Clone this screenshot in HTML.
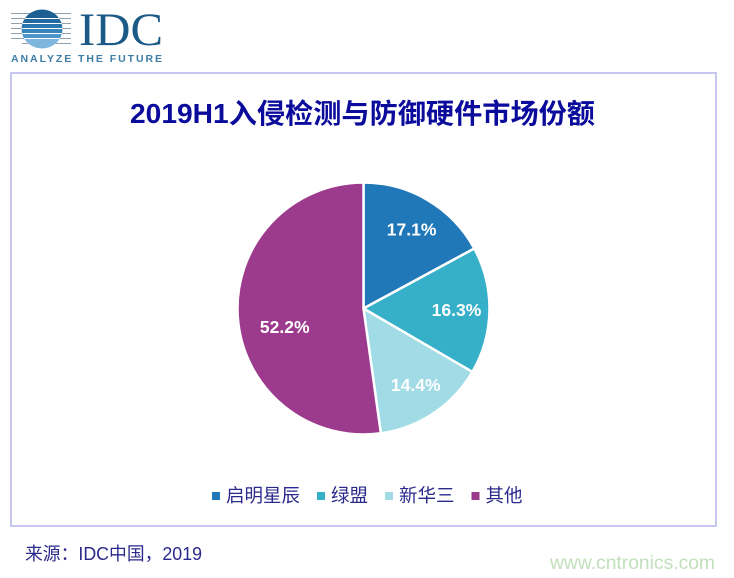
<!DOCTYPE html>
<html lang="zh">
<head>
<meta charset="utf-8">
<title>2019H1入侵检测与防御硬件市场份额</title>
<style>
html,body{margin:0;padding:0;background:#fff;}
body{width:734px;height:578px;overflow:hidden;position:relative;}
svg{display:block;position:absolute;left:0;top:0;}
text{font-family:"Liberation Sans","Noto Sans CJK SC",sans-serif;}
</style>
</head>
<body>
<svg id="chart" width="734" height="578" viewBox="0 0 734 578">
  <defs>
    <clipPath id="globe-clip"><ellipse cx="42" cy="29" rx="20.5" ry="19.5"/></clipPath>
  </defs>
  <g>
    <g stroke="#8f9fac" stroke-width="1">
      <line x1="11" y1="13.5" x2="71" y2="13.5"/>
      <line x1="11" y1="18.5" x2="71" y2="18.5"/>
      <line x1="11" y1="23.5" x2="71" y2="23.5"/>
      <line x1="11" y1="28.5" x2="71" y2="28.5"/>
      <line x1="11" y1="33.5" x2="71" y2="33.5"/>
      <line x1="11" y1="38.5" x2="71" y2="38.5"/>
      <line x1="22" y1="43.5" x2="71" y2="43.5"/>
    </g>
    <g clip-path="url(#globe-clip)">
      <rect x="20" y="9" width="44" height="41" fill="#fff"/>
      <rect x="20" y="9" width="44" height="9" fill="#1c5f92"/>
      <rect x="20" y="19" width="44" height="4" fill="#22699f"/>
      <rect x="20" y="24" width="44" height="4" fill="#2a77ad"/>
      <rect x="20" y="29" width="44" height="4" fill="#3585bb"/>
      <rect x="20" y="34" width="44" height="4" fill="#4b95c8"/>
      <rect x="20" y="39" width="44" height="10" fill="#7fb6dd"/>
    </g>
    <text x="79" y="45" textLength="84" lengthAdjust="spacingAndGlyphs" style="font-family:'Liberation Serif',serif;font-size:47px" fill="#1b5a86">IDC</text>
    <text x="11" y="62" textLength="151" style="font-size:10.5px;font-weight:700" fill="#3d7da6">ANALYZE THE FUTURE</text>
  </g>
  <rect x="11" y="73" width="705" height="453" fill="#fff" stroke="#c6c6ee" stroke-width="2"/>
  <text x="362.5" y="123" text-anchor="middle" textLength="465" lengthAdjust="spacingAndGlyphs" style="font-size:27.5px;font-weight:700" fill="#0b0b9c">2019H1入侵检测与防御硬件市场份额</text>
  <g id="slices"></g>
  <g id="labels"></g>
  <g id="legend"></g>
  <text x="25" y="560" textLength="177" lengthAdjust="spacingAndGlyphs" style="font-size:18px" fill="#2a2a8c">来源：IDC中国，2019</text>
  <text x="550" y="569" textLength="165" lengthAdjust="spacingAndGlyphs" style="font-size:19px" fill="#c2e0bb">www.cntronics.com</text>
</svg>
<script>
const categories = ['启明星辰', '绿盟', '新华三', '其他'];
const shares = [17.1, 16.3, 14.4, 52.2];
const valueLabels = ['17.1%', '16.3%', '14.4%', '52.2%'];

const sliceColors = ['#2178b8', '#36afc9', '#a0dbe6', '#9c3b8e'];
const NS = 'http://www.w3.org/2000/svg';
const cx = 363.5, cy = 308.5, radius = 126, labelRadius = 92;
const total = shares.reduce((a, b) => a + b, 0);

function angleFor(v) { return v / total * Math.PI * 2; }
function pointAt(a, r) { return [cx + r * Math.sin(a), cy - r * Math.cos(a)]; }

const slicesG = document.getElementById('slices');
const labelsG = document.getElementById('labels');
const legendG = document.getElementById('legend');

let running = 0;
shares.forEach(function (v, i) {
  const a0 = angleFor(running);
  const a1 = angleFor(running + v);
  const p0 = pointAt(a0, radius);
  const p1 = pointAt(a1, radius);
  const large = a1 - a0 > Math.PI ? 1 : 0;
  const path = document.createElementNS(NS, 'path');
  path.setAttribute('d', 'M' + cx + ' ' + cy + ' L' + p0[0] + ' ' + p0[1] + ' A' + radius + ' ' + radius + ' 0 ' + large + ' 1 ' + p1[0] + ' ' + p1[1] + ' Z');
  path.setAttribute('fill', sliceColors[i]);
  path.setAttribute('stroke', '#fff');
  path.setAttribute('stroke-width', '2.5');
  path.setAttribute('stroke-linejoin', 'round');
  
  
  slicesG.appendChild(path);

  const mid = pointAt((a0 + a1) / 2, labelRadius);
  const isMajor = v / total > 0.5;
  const t = document.createElementNS(NS, 'text');
  t.setAttribute('x', mid[0] + (isMajor ? 13 : 1));
  t.setAttribute('y', mid[1] + 6 + (isMajor ? 12 : 0));
  t.setAttribute('text-anchor', 'middle');
  t.setAttribute('fill', '#fff');
  t.setAttribute('style', 'font-size:17.5px;font-weight:700');
  
  
  t.textContent = valueLabels[i];
  labelsG.appendChild(t);
  running += v;
});

const legendY = 496;
let legendX = 212;
categories.forEach(function (name, i) {
  const sw = document.createElementNS(NS, 'rect');
  sw.setAttribute('x', legendX);
  sw.setAttribute('y', legendY - 4);
  sw.setAttribute('width', 8);
  sw.setAttribute('height', 8);
  sw.setAttribute('fill', sliceColors[i]);
  
  
  legendG.appendChild(sw);
  const t = document.createElementNS(NS, 'text');
  t.setAttribute('x', legendX + 14);
  t.setAttribute('y', legendY + 6);
  t.setAttribute('fill', '#2a2a8c');
  t.setAttribute('style', 'font-size:18.5px');
  
  
  t.textContent = name;
  legendG.appendChild(t);
  legendX += 14 + name.length * 18.5 + 17;
});
</script>
</body>
</html>
